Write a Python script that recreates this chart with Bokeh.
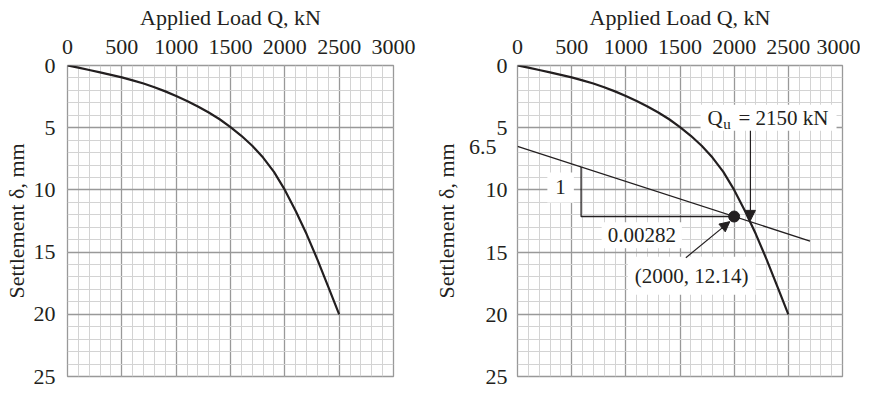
from bokeh.plotting import figure
from bokeh.models import Range1d, FixedTicker, Label, Arrow, NormalHead, BoxAnnotation
from bokeh.layouts import row
from bokeh.embed import file_html
from bokeh.resources import INLINE

# ---- data ----
load_kN = [0, 100, 200, 300, 400, 500, 600, 700, 800, 900, 1000, 1100, 1200, 1300, 1400,
           1500, 1600, 1700, 1800, 1900, 2000, 2100, 2200, 2300, 2400, 2500]
settlement_mm = [0, 0.17, 0.36, 0.55, 0.75, 0.95, 1.2, 1.45, 1.75, 2.08, 2.45, 2.85, 3.3, 3.78, 4.32,
                 4.95, 5.65, 6.45, 7.4, 8.55, 10.0, 11.7, 13.55, 15.6, 17.8, 20.0]
x_ticks = [0, 500, 1000, 1500, 2000, 2500, 3000]
y_ticks = [0, 5, 10, 15, 20, 25]
y_ticks_right = [0, 5, 6.5, 10, 15, 20, 25]
x_minor = list(range(0, 3001, 100))
y_minor = list(range(0, 26))
tangent_load = [0, 2700]
tangent_settle = [6.5, 14.114]
extension_load = [-172, 0]
extension_settle = [6.5, 6.5]
slope_load = [587, 587, 2000]
slope_settle = [8.155, 12.14, 12.14]
point_load = [2000]
point_settle = [12.14]
qu_load = 2150
qu_settle = 12.45

FONT = "Liberation Serif"
INK = "#231f20"
MAJOR = "#999999"
MINOR = "#d3d3d3"
NB = "\u00a0"


def make_fig(w, bl, br, ylabel_standoff):
    p = figure(width=w, height=388, x_range=Range1d(0, 3000), y_range=Range1d(25, 0),
               x_axis_location="above", output_backend="svg", toolbar_location=None,
               min_border_left=bl, min_border_right=br, min_border_top=65, min_border_bottom=12)
    p.xaxis.ticker = FixedTicker(ticks=x_ticks, minor_ticks=x_minor)
    p.yaxis.ticker = FixedTicker(ticks=y_ticks, minor_ticks=y_minor)
    p.xaxis.axis_label = "Applied Load Q, kN"
    p.yaxis.axis_label = "Settlement δ, mm"
    for ax in p.axis:
        ax.axis_label_text_font = FONT
        ax.axis_label_text_font_style = "normal"
        ax.axis_label_text_font_size = "22px"
        ax.axis_label_text_color = INK
        ax.major_label_text_font = FONT
        ax.major_label_text_font_size = "22px"
        ax.major_label_text_color = INK
        ax.axis_line_color = None
        ax.major_tick_line_color = None
        ax.minor_tick_line_color = None
        ax.major_tick_out = 0
        ax.major_tick_in = 0
        ax.minor_tick_out = 0
        ax.minor_tick_in = 0
    p.xaxis.major_label_standoff = 12
    p.xaxis.axis_label_standoff = 7
    p.yaxis.major_label_standoff = 12
    p.yaxis.axis_label_standoff = ylabel_standoff
    p.grid.grid_line_color = MAJOR
    p.grid.grid_line_width = 1.3
    p.grid.minor_grid_line_color = MINOR
    p.grid.minor_grid_line_width = 1
    p.outline_line_color = MAJOR
    p.outline_line_width = 1.3
    p.line(load_kN, settlement_mm, line_color=INK, line_width=2.2)
    return p


p1 = make_fig(430, 61, 37, 2)
p2 = make_fig(430, 80, 18, 7)

# right chart: extra 6.5 tick label on the axis, grid keeps the regular ticks
p2.yaxis.ticker = FixedTicker(ticks=y_ticks_right, minor_ticks=y_minor)
p2.ygrid.ticker = FixedTicker(ticks=y_ticks, minor_ticks=y_minor)
p2.yaxis.major_label_standoff = 10
p2.yaxis.major_label_overrides = {6.5: "6.5" + NB * 2}

# tangent line and slope triangle
p2.add_layout(Arrow(end=None, x_start=extension_load[0], y_start=extension_settle[0],
                    x_end=extension_load[1], y_end=extension_settle[1],
                    line_color=MAJOR, line_width=1.5))
p2.line(tangent_load, tangent_settle, line_color=INK, line_width=1.3)
p2.line(slope_load, slope_settle, line_color=INK, line_width=1.3)
p2.scatter(point_load, point_settle, size=11, color=INK)


def lab(x, y, text, pad=6, size="21px"):
    return Label(x=x, y=y, text=text, text_align="center", text_baseline="middle",
                 text_font=FONT, text_font_size=size, text_color=INK,
                 background_fill_color="white", padding=pad)


p2.add_layout(lab(398, 9.8, "1", pad=8))
p2.add_layout(lab(1147, 13.65, "0.00282", pad=6))
p2.add_layout(lab(1608, 16.9, "(2000, 12.14)", pad=7))

# Qu box
p2.add_layout(BoxAnnotation(left=1690, right=2945, top=3.15, bottom=5.25,
                            fill_color="white", fill_alpha=1, line_color=None))
p2.add_layout(Label(x=1753, y=4.2, text="Q", text_align="left", text_baseline="middle",
                    text_font=FONT, text_font_size="21px", text_color=INK))
p2.add_layout(Label(x=1900, y=4.7, text="u", text_align="left", text_baseline="middle",
                    text_font=FONT, text_font_size="15px", text_color=INK))
p2.add_layout(Label(x=2040, y=4.2, text="= 2150 kN", text_align="left", text_baseline="middle",
                    text_font=FONT, text_font_size="21px", text_color=INK))

# arrows
head = dict(size=10, fill_color=INK, line_color=INK, line_width=1)
p2.add_layout(Arrow(end=NormalHead(**head), x_start=qu_load, y_start=5.25,
                    x_end=qu_load, y_end=qu_settle, line_color=INK, line_width=1.2))
p2.add_layout(Arrow(end=NormalHead(**head), x_start=1554, y_start=15.45,
                    x_end=1960, y_end=12.55, line_color=INK, line_width=1.2))

layout = row(p1, p2, spacing=0)
open("out.html", "w").write(file_html(layout, INLINE))
